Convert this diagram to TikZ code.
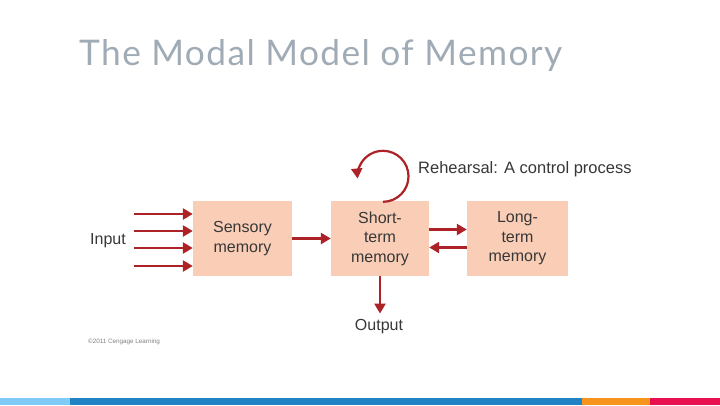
\documentclass[tikz,border=0pt]{standalone}
\usepackage{fontspec}
\setmainfont{Liberation Sans}
\newfontfamily\titlefont[LetterSpace=4]{Lato}
\usetikzlibrary{positioning, arrows.meta, calc}
\definecolor{PeachBox}{RGB}{250,206,182}
\definecolor{ArrowRed}{RGB}{172,34,38}
\definecolor{TitleGray}{RGB}{160,171,181}
\definecolor{TextGray}{RGB}{55,55,55}
\definecolor{BarLight}{RGB}{127,202,247}
\definecolor{BarBlue}{RGB}{33,131,196}
\definecolor{BarOrange}{RGB}{247,148,29}
\definecolor{BarRed}{RGB}{232,16,80}

\begin{document}
\begin{tikzpicture}[x=1pt, y=-1pt,
    memorybox/.style={rectangle, fill=PeachBox, minimum height=75pt, align=center,
        text=TextGray, font=\fontsize{16}{19.5}\selectfont, inner sep=0pt},
    flow/.style={-{Triangle[length=10pt, width=11pt]}, line width=2.4pt, ArrowRed},
    plain/.style={text=TextGray, font=\fontsize{16}{19}\selectfont, inner sep=0pt}]
    \useasboundingbox (0,0) rectangle (720,405);

    % Title
    \node[anchor=west, text=TitleGray, font=\titlefont\fontsize{35.3}{40}\selectfont, inner sep=0pt] (title) at (79,56) {The Modal Model of Memory};

    % Nodes
    \node[memorybox, minimum width=99pt] (sens) at (242.5,238.5) {Sensory\\memory};
    \node[memorybox, minimum width=98pt] (stm) at (380,238.5) {Short-\\term\\memory};
    \node[memorybox, minimum width=101pt] (ltm) at (517.5,238.5) {Long-\\term\\memory};

    \node[plain] (inp) at (108,241) {Input};
    \node[plain] (outp) at (379,327) {Output};
    \node[plain, anchor=west, font=\fontsize{16.5}{19}\selectfont] (reh) at (418,169) {Rehearsal: A control process};
    \node[anchor=west, text=gray, font=\fontsize{6.3}{7}\selectfont, inner sep=0pt] (copy) at (88,342) {©2011 Cengage Learning};

    % Connections
    \foreach \y [count=\i] in {214,231,248,266} {
        \coordinate (in\i) at (134,\y);
        \draw[flow] (in\i) -- (in\i -| sens.west);
    }
    \draw[flow] (sens.east) -- (stm.west);
    \draw[flow] ([yshift=9pt]stm.east) -- ([yshift=9pt]ltm.west);
    \draw[flow] ([yshift=-9pt]ltm.west) -- ([yshift=-9pt]stm.east);
    \draw[flow] (stm.south) -- ([yshift=6pt]stm.south |- outp.north);
    \draw[-{Triangle[length=10pt, width=11pt]}, line width=2.2pt, ArrowRed]
        ([xshift=3pt, yshift=-1pt]stm.north) arc[start angle=90, end angle=-185, radius=25.5];

    % Footer bar
    \fill[BarLight] (0,398) rectangle (70,405);
    \fill[BarBlue] (70,398) rectangle (582,405);
    \fill[BarOrange] (582,398) rectangle (650,405);
    \fill[BarRed] (650,398) rectangle (720,405);
\end{tikzpicture}
\end{document}
